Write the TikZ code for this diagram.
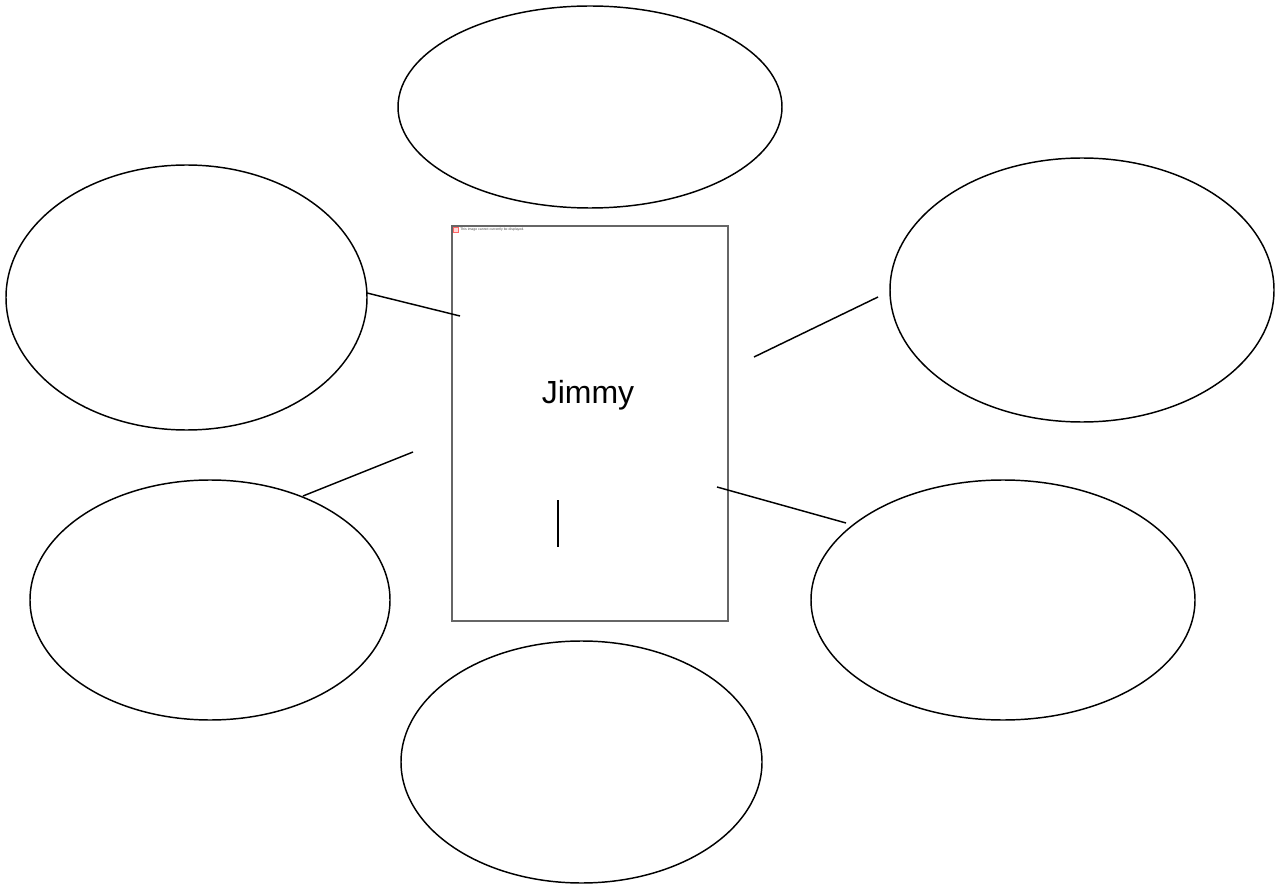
\documentclass[tikz,border=0pt]{standalone}
\usepackage{fontspec}
\setmainfont{Liberation Sans}
\usetikzlibrary{shapes.geometric}
\begin{document}
\begin{tikzpicture}[x=0.75pt,y=-0.75pt,
  bubble/.style={draw=black,line width=1.1pt,ellipse,inner sep=0pt},
  link/.style={draw=black,line width=1.1pt},
  photo/.style={draw=black!60,line width=0.8pt,rectangle,inner sep=0pt}]
\useasboundingbox (0,0) rectangle (1275,884);
\fill[white] (0,0) rectangle (1275,884);
% central frame
\node[photo,minimum width=276*0.75pt,minimum height=395*0.75pt] (box) at (590,423.5) {};
\node[font=\fontsize{24}{28}\selectfont] (name) at (588,395) {Jimmy};
\node[draw=red!60,fill=red!15,line width=0.3pt,minimum size=4pt,inner sep=0pt] (icon) at (456,230) {};
\node[anchor=west,font=\fontsize{2.6}{3}\selectfont,text=black!70,inner sep=0pt] (msg) at (460,230) {This image cannot currently be displayed.};
% bubbles
\node[bubble,minimum width=384*0.75pt,minimum height=202*0.75pt] (top) at (590,107) {};
\node[bubble,minimum width=361*0.75pt,minimum height=265*0.75pt] (lu) at (186.5,297.5) {};
\node[bubble,minimum width=384*0.75pt,minimum height=264*0.75pt] (ru) at (1082,290) {};
\node[bubble,minimum width=360*0.75pt,minimum height=240*0.75pt] (ll) at (210,600) {};
\node[bubble,minimum width=384*0.75pt,minimum height=240*0.75pt] (rl) at (1003,600) {};
\node[bubble,minimum width=361*0.75pt,minimum height=242*0.75pt] (bot) at (581.5,762) {};
% connector ends
\coordinate (a1) at (367,293); \coordinate (a2) at (460,316);
\coordinate (b1) at (754,357); \coordinate (b2) at (878,297);
\coordinate (c1) at (413,452); \coordinate (c2) at (303,496);
\coordinate (d1) at (717,487); \coordinate (d2) at (846,523);
\coordinate (e1) at (558,500); \coordinate (e2) at (558,547);
\draw[link] (a1) -- (a2);
\draw[link] (b1) -- (b2);
\draw[link] (c1) -- (c2);
\draw[link] (d1) -- (d2);
\draw[link] (e1) -- (e2);
\end{tikzpicture}
\end{document}
